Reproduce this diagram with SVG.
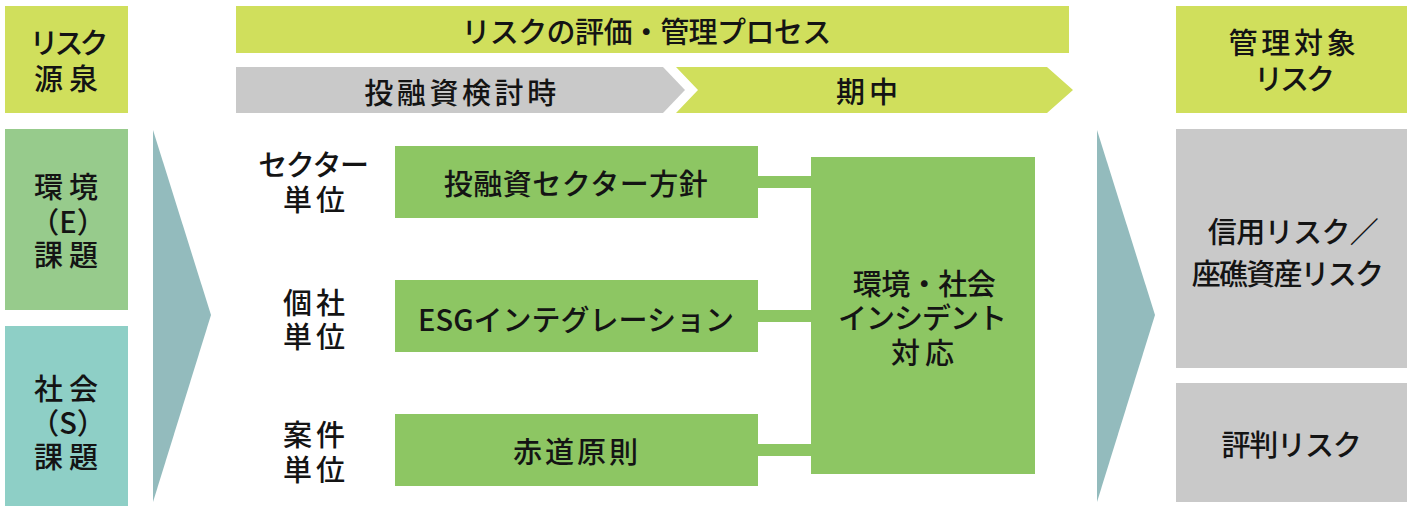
<svg xmlns="http://www.w3.org/2000/svg" width="1412" height="506" viewBox="0 0 1412 506">
  <style>
    .t { font-family: "Noto Sans CJK JP", "Noto Sans", sans-serif; font-size: 29px; font-weight: 500; fill: #141414; text-anchor: middle; dominant-baseline: central; }
    .yg { fill: #D0DF5C; }
    .gr { fill: #C9C9C9; }
    .bg { fill: #8DC663; }
    .eg { fill: #97CB8C; }
    .sg { fill: #8ECFC6; }
    .tl { fill: #93BBBD; }
    .conn { stroke: #8DC663; stroke-width: 12; fill: none; }
  </style>

  <g id="header-source">
    <rect class="yg" x="5" y="6" width="123" height="107"/>
    <text class="t"><tspan x="67" y="41" letter-spacing="-4">リスク</tspan><tspan x="69" y="77" letter-spacing="6">源泉</tspan></text>
  </g>

  <g id="header-process">
    <rect class="yg" x="236" y="6" width="833" height="47"/>
    <text class="t" x="646" y="30" letter-spacing="-0.6">リスクの評価・管理プロセス</text>
  </g>

  <g id="phase-review">
    <polygon class="gr" points="236,67 663,67 685,90 663,113 236,113"/>
    <text class="t" x="462" y="91" letter-spacing="3.6">投融資検討時</text>
  </g>

  <g id="phase-during">
    <polygon class="yg" points="676,67 1047,67 1073,90 1047,113 676,113 698,90"/>
    <text class="t" x="869" y="90" letter-spacing="4">期中</text>
  </g>

  <g id="header-target">
    <rect class="yg" x="1176" y="6" width="231" height="107"/>
    <text class="t"><tspan x="1294" y="41" letter-spacing="3.7">管理対象</tspan><tspan x="1293" y="77" letter-spacing="-3">リスク</tspan></text>
  </g>

  <g id="source-e">
    <rect class="eg" x="5" y="129" width="123" height="181"/>
    <text class="t"><tspan x="69" y="185" letter-spacing="6">環境</tspan><tspan x="68" y="220">（E）</tspan><tspan x="69" y="253" letter-spacing="6">課題</tspan></text>
  </g>

  <g id="source-s">
    <rect class="sg" x="5" y="326" width="123" height="180"/>
    <text class="t"><tspan x="69" y="387" letter-spacing="6">社会</tspan><tspan x="68" y="421">（S）</tspan><tspan x="69" y="455" letter-spacing="6">課題</tspan></text>
  </g>

  <g id="arrow-left">
    <polygon class="tl" points="153,130 211,315 153,502"/>
  </g>

  <g id="label-sector">
    <text class="t"><tspan x="313" y="163" letter-spacing="-1.3">セクター</tspan><tspan x="316" y="198" letter-spacing="4">単位</tspan></text>
  </g>
  <g id="label-company">
    <text class="t"><tspan x="316" y="301" letter-spacing="4">個社</tspan><tspan x="316" y="335" letter-spacing="4">単位</tspan></text>
  </g>
  <g id="label-deal">
    <text class="t"><tspan x="316" y="433" letter-spacing="4">案件</tspan><tspan x="316" y="468" letter-spacing="4">単位</tspan></text>
  </g>

  <g id="node-sector-policy">
    <rect class="bg" x="395" y="146" width="363" height="72"/>
    <text class="t" x="576" y="182" letter-spacing="0.5">投融資セクター方針</text>
  </g>
  <g id="node-esg">
    <rect class="bg" x="395" y="280" width="363" height="72"/>
    <text class="t" x="576" y="318">ESGインテグレーション</text>
  </g>
  <g id="node-equator">
    <rect class="bg" x="395" y="414" width="363" height="72"/>
    <text class="t" x="577" y="450" letter-spacing="3">赤道原則</text>
  </g>

  <g id="connectors">
    <line class="conn" x1="758" y1="182" x2="811" y2="182"/>
    <line class="conn" x1="758" y1="316" x2="811" y2="316"/>
    <line class="conn" x1="758" y1="450" x2="811" y2="450"/>
  </g>

  <g id="node-incident">
    <rect class="bg" x="811" y="157" width="224" height="317"/>
    <text class="t"><tspan x="924" y="282" letter-spacing="-0.5">環境・社会</tspan><tspan x="922" y="316" letter-spacing="-1">インシデント</tspan><tspan x="925" y="351" letter-spacing="5">対応</tspan></text>
  </g>

  <g id="arrow-right">
    <polygon class="tl" points="1097,130 1155,315 1097,502"/>
  </g>

  <g id="target-credit">
    <rect class="gr" x="1176" y="129" width="231" height="239"/>
    <text class="t"><tspan x="1293" y="230" letter-spacing="-0.6">信用リスク／</tspan><tspan x="1287" y="272" letter-spacing="-1.8">座礁資産リスク</tspan></text>
  </g>

  <g id="target-reputation">
    <rect class="gr" x="1176" y="383" width="231" height="119"/>
    <text class="t" x="1291" y="443" letter-spacing="-1.2">評判リスク</text>
  </g>
</svg>
